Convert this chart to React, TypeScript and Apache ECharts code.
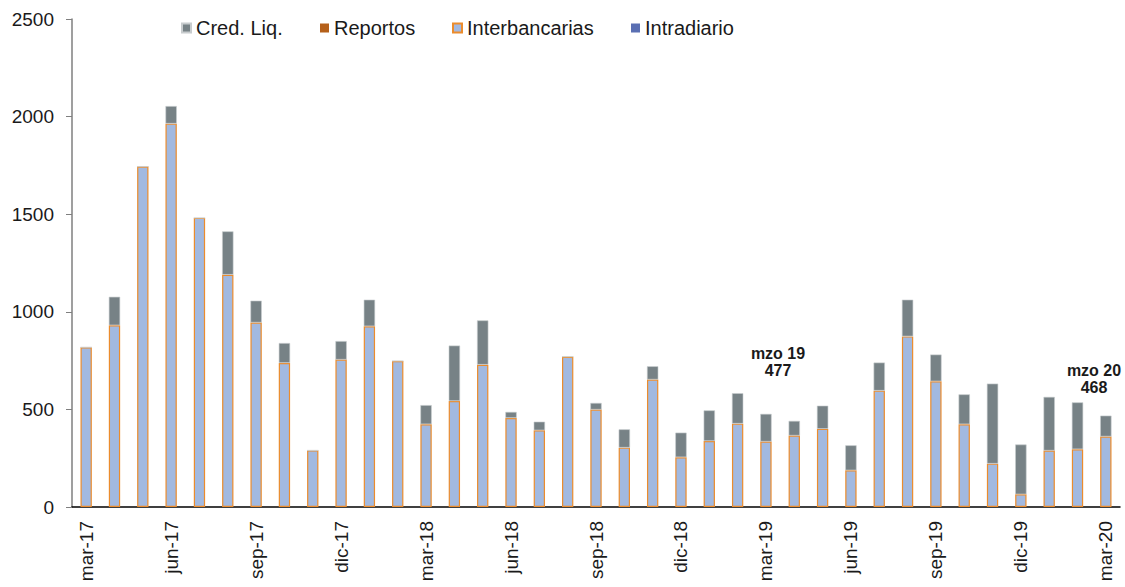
import React, { useEffect, useRef } from "react";
import * as echarts from "echarts";

const months = [
  "mar-17", "abr-17", "may-17", "jun-17", "jul-17", "ago-17", "sep-17", "oct-17", "nov-17", "dic-17",
  "ene-18", "feb-18", "mar-18", "abr-18", "may-18", "jun-18", "jul-18", "ago-18", "sep-18", "oct-18", "nov-18", "dic-18",
  "ene-19", "feb-19", "mar-19", "abr-19", "may-19", "jun-19", "jul-19", "ago-19", "sep-19", "oct-19", "nov-19", "dic-19",
  "ene-20", "feb-20", "mar-20",
];

const interbancarias = [
  818, 931, 1744, 1964, 1481, 1190, 945, 738, 290, 755,
  926, 748, 424, 543, 729, 456, 393, 770, 499, 304, 653, 255,
  338, 427, 335, 366, 400, 188, 596, 874, 644, 424, 222, 65,
  289, 296, 361,
];

const credLiq = [
  0, 146, 0, 90, 0, 222, 112, 102, 0, 95,
  136, 0, 98, 284, 227, 31, 44, 0, 34, 94, 68, 126,
  157, 156, 142, 75, 119, 128, 144, 188, 137, 153, 410, 255,
  275, 240, 107,
];

const reportos = months.map(() => 0);
const intradiario = months.map(() => 0);

const yTicks = { min: 0, max: 2500, interval: 500 };

const legendNames = ["Cred. Liq.", "Reportos", "Interbancarias", "Intradiario"];
const legendLefts = [176, 315, 447, 626];

const annotations = [
  { lines: ["mzo 19", "477"], x: 778, y: 345 },
  { lines: ["mzo 20", "468"], x: 1094, y: 362 },
];

const FONT = "Liberation Sans, Arial, sans-serif";

export default function App() {
  const ref = useRef<HTMLDivElement>(null);
  useEffect(() => {
    if (!ref.current) return;
    const chart = echarts.init(ref.current, null, { renderer: "svg" });
    const barW = "40%";
    chart.setOption({
      animation: false,
      textStyle: { fontFamily: FONT },
      grid: { left: 72, right: 5, top: 19, bottom: 80, containLabel: false },
      legend: legendNames.map((n, i) => ({
        data: [n],
        left: legendLefts[i],
        top: 13,
        itemWidth: 9,
        itemHeight: 9,
        icon: "rect",
        textStyle: { fontFamily: FONT, fontSize: 20, color: "#1a1a1a" },
      })),
      xAxis: {
        type: "category",
        data: months,
        boundaryGap: true,
        axisLine: { lineStyle: { color: "#000", width: 1.5 } },
        axisTick: { interval: 2, length: 7, lineStyle: { color: "#333" } },
        axisLabel: {
          interval: 2,
          rotate: 90,
          fontSize: 19,
          color: "#1a1a1a",
          fontFamily: FONT,
          margin: 14,
        },
      },
      yAxis: {
        type: "value",
        min: yTicks.min,
        max: yTicks.max,
        interval: yTicks.interval,
        splitLine: { show: false },
        axisLine: { show: true, lineStyle: { color: "#7f7f7f", width: 1.5 } },
        axisTick: { show: true, length: 6, lineStyle: { color: "#7f7f7f" } },
        axisLabel: {
          fontSize: 19,
          color: "#1a1a1a",
          fontFamily: FONT,
          margin: 18,
          formatter: (v: number) => String(v),
        },
      },
      series: [
        {
          name: "Intradiario",
          type: "bar",
          stack: "t",
          barWidth: barW,
          data: intradiario,
          itemStyle: { color: "#5a6fb3" },
        },
        {
          name: "Interbancarias",
          type: "bar",
          stack: "t",
          barWidth: barW,
          data: interbancarias,
          itemStyle: { color: "#a2b9e0", borderColor: "#eb8c2d", borderWidth: 1.2 },
        },
        {
          name: "Reportos",
          type: "bar",
          stack: "t",
          barWidth: barW,
          data: reportos,
          itemStyle: { color: "#b5601a" },
        },
        {
          name: "Cred. Liq.",
          type: "bar",
          stack: "t",
          barWidth: barW,
          data: credLiq,
          itemStyle: { color: "#778286", borderColor: "#c8ccce", borderWidth: 0.6 },
        },
      ],
      graphic: annotations.map((a) => ({
        type: "text",
        x: a.x,
        y: a.y,
        style: {
          text: a.lines.join("\n"),
          font: `bold 16px ${FONT}`,
          fill: "#1a1a1a",
          align: "center",
          verticalAlign: "top",
          lineHeight: 17,
        },
      })),
    });
    return () => chart.dispose();
  }, []);
  return (
    <div
      ref={ref}
      style={{ position: "absolute", left: 0, top: 0, width: 1125, height: 587, background: "#fff" }}
    />
  );
}
